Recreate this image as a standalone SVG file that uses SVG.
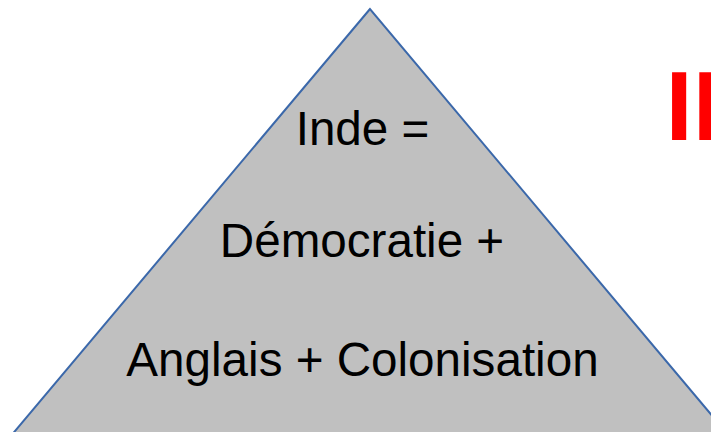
<svg xmlns="http://www.w3.org/2000/svg" width="711" height="432" viewBox="0 0 711 432">
<style>
.lbl{font-family:"Liberation Sans",Arial,sans-serif;font-size:47.6px;fill:#000;text-anchor:middle}
</style>
<rect width="711" height="432" fill="#fff"/>
<g id="pyramid">
<polygon points="370,9 10,437 730,437" fill="#c0c0c0" stroke="#3b68aa" stroke-width="2"/>
<text class="lbl" x="362.5" y="145">Inde =</text>
<text class="lbl" x="362" y="257">Démocratie +</text>
<text class="lbl" x="362.5" y="376">Anglais + Colonisation</text>
</g>
<g id="numeral">
<text x="665.5" y="140" font-family="'Liberation Sans',Arial,sans-serif" font-weight="bold" font-size="98" fill="#ff0000">II</text>
</g>
</svg>
